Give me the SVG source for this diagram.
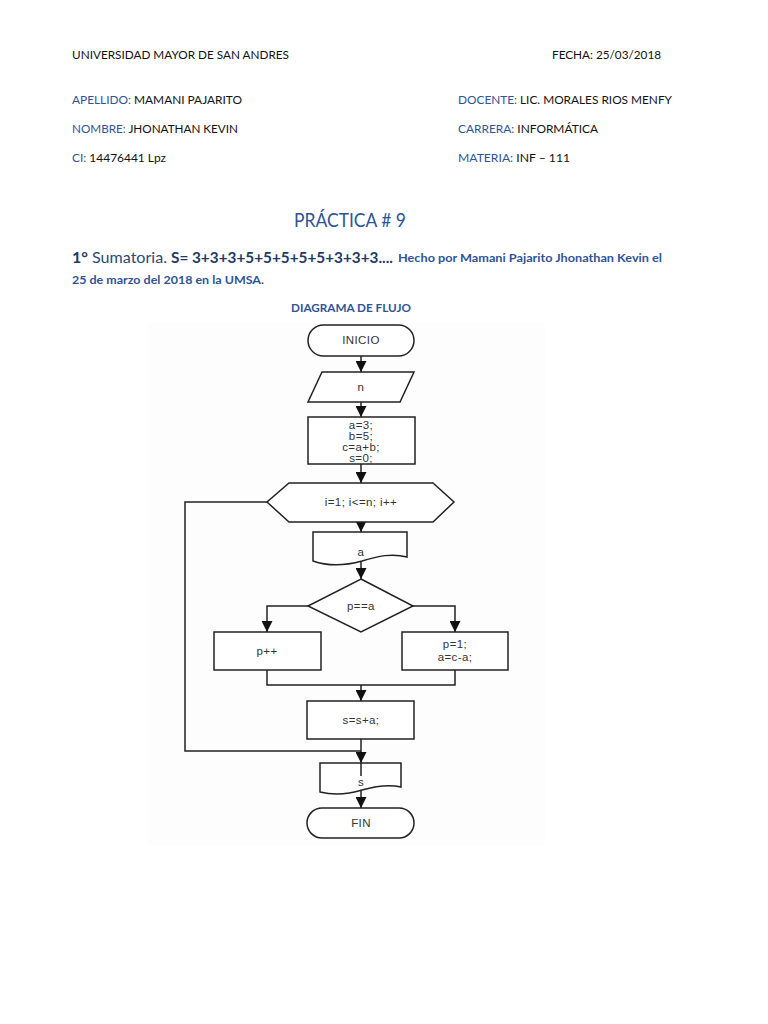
<svg xmlns="http://www.w3.org/2000/svg" width="768" height="1024" viewBox="0 0 768 1024">
<style>
.h{font-family:Lato,"Open Sans",sans-serif;font-size:12px;fill:#111}
.b{fill:#2F5496}
.f{font-family:"Liberation Sans",Arial,sans-serif;font-size:11.5px;letter-spacing:0.4px;fill:#333;text-anchor:middle}
.s{fill:#fff;stroke:#222;stroke-width:1.5}
.c{fill:none;stroke:#222;stroke-width:1.5}
</style>
<defs>
<marker id="ar" viewBox="0 0 10 10" refX="10" refY="5" markerWidth="11" markerHeight="11" markerUnits="userSpaceOnUse" orient="auto">
<path d="M0,0 L10,5 L0,10 Z" fill="#111"/>
</marker>
</defs>
<rect width="768" height="1024" fill="#fff"/>
<g id="header">
<text class="h" x="72" y="59" textLength="217" lengthAdjust="spacingAndGlyphs">UNIVERSIDAD MAYOR DE SAN ANDRES</text>
<text class="h" x="552" y="59" textLength="109" lengthAdjust="spacingAndGlyphs">FECHA: 25/03/2018</text>
<text class="h" x="72" y="104" textLength="170" lengthAdjust="spacingAndGlyphs"><tspan class="b">APELLIDO:</tspan> MAMANI PAJARITO</text>
<text class="h" x="458" y="104" textLength="214" lengthAdjust="spacingAndGlyphs"><tspan class="b">DOCENTE:</tspan> LIC. MORALES RIOS MENFY</text>
<text class="h" x="72" y="133" textLength="166" lengthAdjust="spacingAndGlyphs"><tspan class="b">NOMBRE:</tspan> JHONATHAN KEVIN</text>
<text class="h" x="458" y="133" textLength="140" lengthAdjust="spacingAndGlyphs"><tspan class="b">CARRERA:</tspan> INFORMÁTICA</text>
<text class="h" x="72" y="162" textLength="94" lengthAdjust="spacingAndGlyphs"><tspan class="b">CI:</tspan> 14476441 Lpz</text>
<text class="h" x="458" y="162" textLength="112" lengthAdjust="spacingAndGlyphs"><tspan class="b">MATERIA:</tspan> INF – 111</text>
<text x="294" y="227" font-family="Lato,'Open Sans',sans-serif" font-size="20" fill="#2F5496" textLength="112" lengthAdjust="spacingAndGlyphs">PRÁCTICA # 9</text>
<text x="72" y="263" font-family="Lato,'Open Sans',sans-serif" font-size="16" fill="#1F3864" font-weight="bold" textLength="16" lengthAdjust="spacingAndGlyphs">1°</text>
<text x="92" y="263" font-family="Lato,'Open Sans',sans-serif" font-size="16" fill="#2A4A7A" textLength="75" lengthAdjust="spacingAndGlyphs">Sumatoria.</text>
<text x="171" y="263" font-family="Lato,'Open Sans',sans-serif" font-size="16" fill="#1F3864" font-weight="bold" textLength="222" lengthAdjust="spacingAndGlyphs">S= 3+3+3+5+5+5+5+5+3+3+3....</text>
<text x="398" y="262" font-family="Lato,'Open Sans',sans-serif" font-size="12" fill="#2F5496" font-weight="bold" textLength="264" lengthAdjust="spacingAndGlyphs">Hecho por Mamani Pajarito Jhonathan Kevin el</text>
<text x="72" y="284" font-family="Lato,'Open Sans',sans-serif" font-size="12" fill="#2F5496" font-weight="bold" textLength="192" lengthAdjust="spacingAndGlyphs">25 de marzo del 2018 en la UMSA.</text>
<text x="291" y="312" font-family="Lato,'Open Sans',sans-serif" font-size="11" fill="#2F5496" font-weight="bold" textLength="120" lengthAdjust="spacingAndGlyphs">DIAGRAMA DE FLUJO</text>
</g>
<rect x="147" y="323" width="398" height="522" fill="#fdfdfd"/>
<g id="connectors">
<line class="c" x1="361" y1="356" x2="361" y2="372" marker-end="url(#ar)"/>
<line class="c" x1="361" y1="402" x2="361" y2="417" marker-end="url(#ar)"/>
<line class="c" x1="361" y1="464" x2="361" y2="483" marker-end="url(#ar)"/>
<line class="c" x1="361" y1="522" x2="361" y2="532" marker-end="url(#ar)"/>
<line class="c" x1="361" y1="560" x2="361" y2="579" marker-end="url(#ar)"/>
<polyline class="c" points="308,606 267,606 267,632" marker-end="url(#ar)"/>
<polyline class="c" points="413,606 455,606 455,632" marker-end="url(#ar)"/>
<polyline class="c" points="267,670 267,685 455,685 455,670"/>
<line class="c" x1="361" y1="685" x2="361" y2="701" marker-end="url(#ar)"/>
<polyline class="c" points="267,502 185,502 185,751 361,751"/>
<line class="c" x1="361" y1="739" x2="361" y2="763" marker-end="url(#ar)"/>
<line class="c" x1="361" y1="789" x2="361" y2="808" marker-end="url(#ar)"/>
</g>
<g id="inicio">
<rect class="s" x="308" y="325" width="106" height="31" rx="15.5"/>
<text class="f" x="361" y="344">INICIO</text>
</g>
<g id="input-n">
<polygon class="s" points="322,372 414,372 400,402 308,402"/>
<text class="f" x="361" y="391">n</text>
</g>
<g id="init">
<rect class="s" x="308" y="417" width="107" height="47"/>
<text class="f" x="361" y="429">a=3;</text>
<text class="f" x="361" y="440">b=5;</text>
<text class="f" x="361" y="451">c=a+b;</text>
<text class="f" x="361" y="462">s=0;</text>
</g>
<g id="loop">
<polygon class="s" points="289,483 433,483 454,502 433,522 289,522 267,502"/>
<text class="f" x="361" y="506">i=1; i&lt;=n; i++</text>
</g>
<g id="doc-a">
<path class="s" d="M313,532 H407 V557 C392,553 378,556 362,561 C344,566 327,566 313,561 Z"/>
<text class="f" x="361" y="556">a</text>
</g>
<g id="decision">
<polygon class="s" points="361,579 413,606 361,632 308,606"/>
<text class="f" x="361" y="610">p==a</text>
</g>
<g id="pinc">
<rect class="s" x="214" y="632" width="107" height="38"/>
<text class="f" x="267" y="655">p++</text>
</g>
<g id="pset">
<rect class="s" x="402" y="632" width="106" height="38"/>
<text class="f" x="455" y="648">p=1;</text>
<text class="f" x="455" y="661">a=c-a;</text>
</g>
<g id="sum">
<rect class="s" x="307" y="701" width="107" height="38"/>
<text class="f" x="361" y="724">s=s+a;</text>
</g>
<g id="doc-s">
<path class="s" d="M320,763 H401 V787 C388,784 376,786 362,790 C346,795 332,795 320,792 Z"/>
<line class="c" x1="361" y1="763" x2="361" y2="776"/>
<text class="f" x="361" y="786">s</text>
</g>
<g id="fin">
<rect class="s" x="307" y="808" width="107" height="30" rx="15"/>
<text class="f" x="361" y="827">FIN</text>
</g>
</svg>
